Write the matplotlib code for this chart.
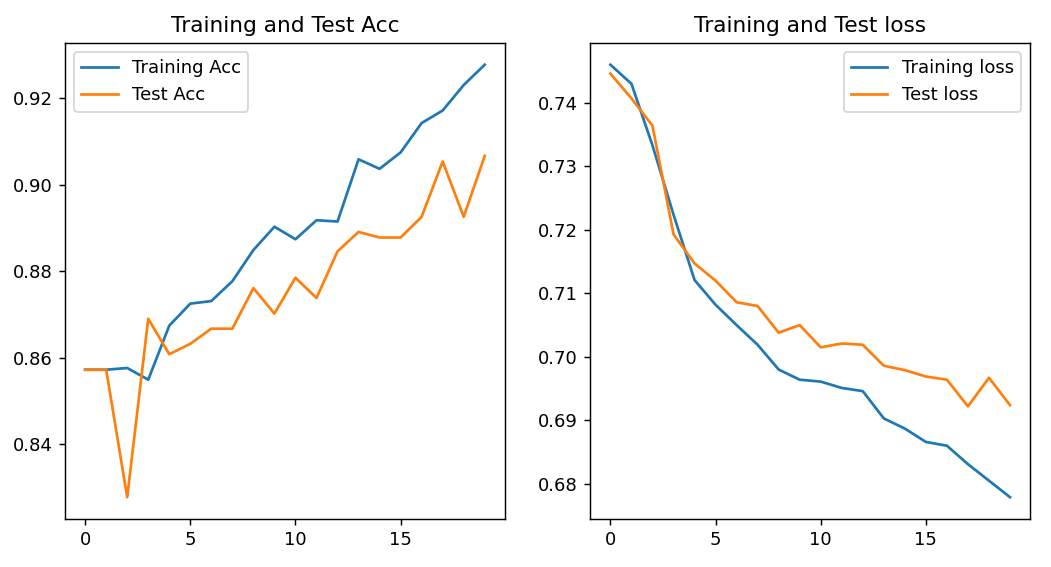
import numpy as np
import matplotlib
matplotlib.use("Agg")
import matplotlib.pyplot as plt

epochs = list(range(20))

train_acc = [0.8572, 0.8572, 0.8576, 0.8549, 0.8674, 0.8725, 0.8731, 0.8777, 0.8849, 0.8903,
             0.8874, 0.8918, 0.8915, 0.9059, 0.9037, 0.9075, 0.9143, 0.9172, 0.9231, 0.9278]
test_acc = [0.8572, 0.8572, 0.8277, 0.8690, 0.8608, 0.8632, 0.8667, 0.8667, 0.8761, 0.8702,
            0.8785, 0.8738, 0.8846, 0.8891, 0.8878, 0.8878, 0.8926, 0.9054, 0.8926, 0.9067]

train_loss = [0.7460, 0.7430, 0.7333, 0.7224, 0.7121, 0.7082, 0.7050, 0.7019, 0.6980, 0.6964,
              0.6961, 0.6951, 0.6946, 0.6903, 0.6887, 0.6866, 0.6860, 0.6831, 0.6805, 0.6779]
test_loss = [0.7446, 0.7407, 0.7364, 0.7193, 0.7147, 0.7120, 0.7086, 0.7080, 0.7038, 0.7050,
             0.7015, 0.7021, 0.7019, 0.6986, 0.6979, 0.6969, 0.6964, 0.6922, 0.6967, 0.6924]

xticks = [0, 5, 10, 15]

DPI = 130
fig = plt.figure(figsize=(1051 / DPI, 567 / DPI), dpi=DPI)

plt.subplot(1, 2, 1)
plt.plot(epochs, train_acc, label="Training Acc")
plt.plot(epochs, test_acc, label="Test Acc")
plt.legend(loc="upper left")
plt.title("Training and Test Acc")
plt.xticks(xticks)

plt.subplot(1, 2, 2)
plt.plot(epochs, train_loss, label="Training loss")
plt.plot(epochs, test_loss, label="Test loss")
plt.legend(loc="upper right")
plt.title("Training and Test loss")
plt.xticks(xticks)

plt.subplots_adjust(left=0.062, right=0.98, top=0.924, bottom=0.085, wspace=0.195)
plt.savefig("out.png", dpi=DPI)
plt.close()
